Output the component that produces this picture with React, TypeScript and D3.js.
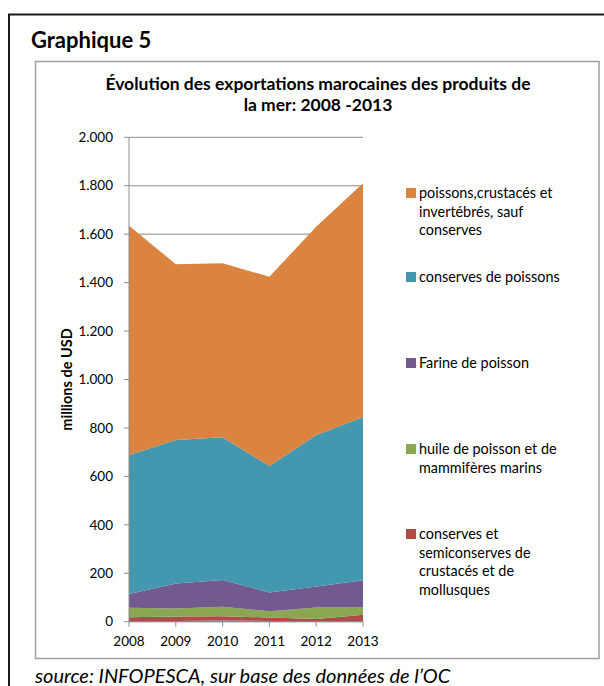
import React from "react";
import * as d3 from "d3";

const years = ["2008", "2009", "2010", "2011", "2012", "2013"];
const seriesNames = [
  "autres",
  "conserves et semiconserves de crustacés et de mollusques",
  "huile de poisson et de mammifères marins",
  "Farine de poisson",
  "conserves de poissons",
  "poissons,crustacés et invertébrés, sauf conserves",
];
const autres = [3, 3, 5, 3, 2, 3];
const conservesCrustaces = [15, 18, 18, 14, 9, 26];
const huile = [40, 33, 39, 26, 48, 30];
const farine = [56, 104, 110, 78, 86, 112];
const conservesPoissons = [574, 592, 590, 522, 626, 673];
const poissonsFrais = [947, 726, 718, 781, 860, 966];
const seriesValues = [autres, conservesCrustaces, huile, farine, conservesPoissons, poissonsFrais];
const seriesColors = ["#4F81BD", "#B24A46", "#8CA751", "#735A8E", "#4397AF", "#DB843F"];
const yTicks = [0, 200, 400, 600, 800, 1000, 1200, 1400, 1600, 1800, 2000];

const legendItems = [
  { color: "#DB843F", lines: ["poissons,crustacés et", "invertébrés, sauf", "conserves"], y: 193 },
  { color: "#4397AF", lines: ["conserves de poissons"], y: 277 },
  { color: "#735A8E", lines: ["Farine de poisson"], y: 363 },
  { color: "#8CA751", lines: ["huile de poisson et de", "mammifères marins"], y: 449 },
  { color: "#B24A46", lines: ["conserves et", "semiconserves de", "crustacés et de", "mollusques"], y: 534 },
];

const FONT = "Lato, 'Open Sans', sans-serif";

export default function App() {
  const left = 129, right = 363, top = 137.3, bottom = 621.7;
  const x = d3.scalePoint<string>().domain(years).range([left, right]);
  const y = d3.scaleLinear().domain([0, 2000]).range([bottom, top]);

  const rows = years.map((yr, i) => {
    const r: any = { year: yr };
    seriesNames.forEach((n, k) => (r[n] = seriesValues[k][i]));
    return r;
  });
  const stacked = d3.stack().keys(seriesNames)(rows);
  const area = d3
    .area<any>()
    .x((d) => x(d.data.year) as number)
    .y0((d) => y(d[0]))
    .y1((d) => y(d[1]));

  const fmt = (v: number) => d3.format(",")(v).replace(/,/g, ".");

  return (
    <svg
      width={604}
      height={686}
      style={{ position: "absolute", left: 0, top: 0, background: "#fff" }}
      fontFamily={FONT}
    >
      <rect x={0} y={0} width={604} height={686} fill="#fff" />
      {/* outer frame */}
      <rect x={9} y={14.5} width={620} height={700} fill="none" stroke="#1a1a1a" strokeWidth={2} />
      <text x={31} y={48} fontSize={22} fontWeight="bold" fill="#000">Graphique 5</text>
      {/* inner chart frame */}
      <rect x={35.5} y={61.5} width={563.5} height={597} fill="none" stroke="#a0a0a0" strokeWidth={1.5} />
      <text x={318} y={90} fontSize={17.5} fontWeight="bold" textAnchor="middle" fill="#000">
        Évolution des exportations marocaines des produits de
      </text>
      <text x={318} y={111} fontSize={17.5} fontWeight="bold" textAnchor="middle" fill="#000">
        la mer: 2008 -2013
      </text>

      {/* gridlines */}
      {yTicks.map((t) => (
        <line key={"g" + t} x1={left} x2={right} y1={y(t)} y2={y(t)} stroke="#8c8c8c" strokeWidth={1} />
      ))}

      {/* areas */}
      {stacked.map((s, k) => (
        <path key={s.key} d={area(s as any) || ""} fill={seriesColors[k]} />
      ))}

      {/* y axis */}
      <line x1={left} x2={left} y1={top} y2={bottom} stroke="#8c8c8c" strokeWidth={1} />
      {yTicks.map((t) => (
        <g key={"yt" + t}>
          <line x1={left - 5} x2={left} y1={y(t)} y2={y(t)} stroke="#8c8c8c" />
          <text x={113} y={y(t)} dy="0.35em" fontSize={13.5} textAnchor="end" fill="#000">
            {fmt(t)}
          </text>
        </g>
      ))}
      {/* x axis */}
      <line x1={left} x2={right} y1={bottom} y2={bottom} stroke="#8c8c8c" strokeWidth={1} />
      {years.map((yr) => (
        <g key={"xt" + yr}>
          <line x1={x(yr)} x2={x(yr)} y1={bottom} y2={bottom + 5} stroke="#8c8c8c" />
          <text x={x(yr)} y={646} fontSize={13.5} textAnchor="middle" fill="#000">
            {yr}
          </text>
        </g>
      ))}
      <text
        transform={`translate(72, ${(top + bottom) / 2}) rotate(-90)`}
        fontSize={14.5}
        fontWeight="bold"
        textAnchor="middle"
        fill="#000"
      >
        millions de USD
      </text>

      {/* legend */}
      {legendItems.map((it) => (
        <g key={it.lines[0]}>
          <rect x={406} y={it.y - 5} width={10} height={10} fill={it.color} />
          {it.lines.map((l, i) => (
            <text key={l} x={419} y={it.y + i * 18.7} dy="0.35em" fontSize={14.4} fill="#000">
              {l}
            </text>
          ))}
        </g>
      ))}

      <text x={35} y={683} fontSize={20} fontStyle="italic" fill="#000">
        source: INFOPESCA, sur base des données de l’OC
      </text>
    </svg>
  );
}
